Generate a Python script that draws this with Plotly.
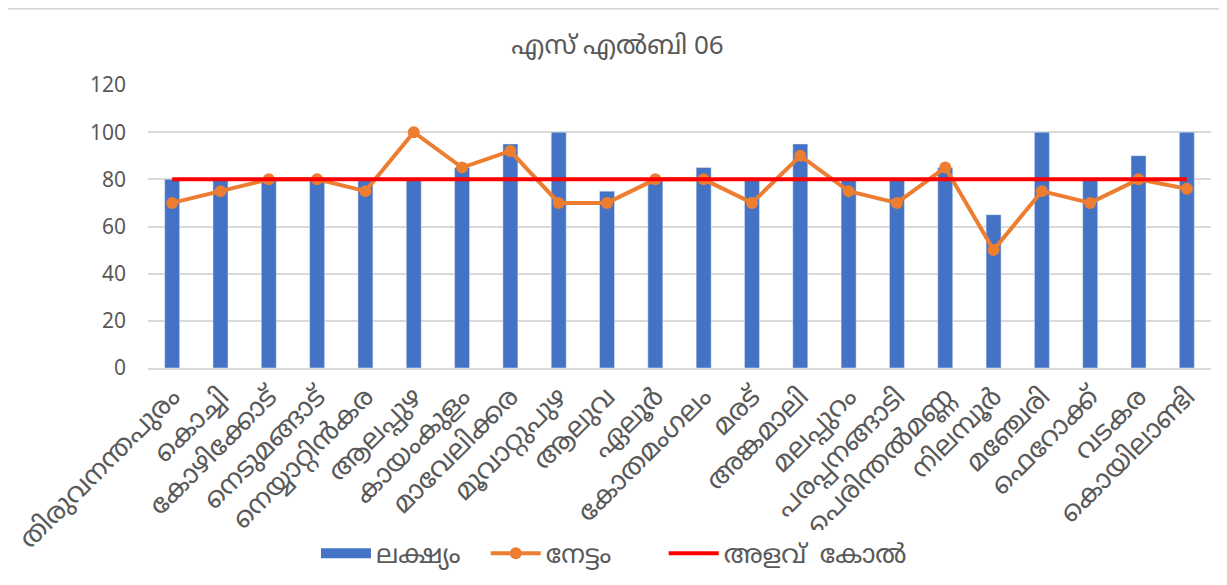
import plotly.graph_objects as go

categories = ["തിരുവനന്തപുരം", "കൊച്ചി", "കോഴിക്കോട്", "നെടുമങ്ങാട്", "നെയ്യാറ്റിൻകര",
              "ആലപ്പുഴ", "കായംകുളം", "മാവേലിക്കര", "മൂവാറ്റുപുഴ", "ആലുവ", "ഏലൂർ",
              "കോതമംഗലം", "മരട്", "അങ്കമാലി", "മലപ്പുറം", "പരപ്പനങ്ങാടി",
              "പെരിന്തൽമണ്ണ", "നിലമ്പൂർ", "മഞ്ചേരി", "ഫെറോക്ക്", "വടകര", "കൊയിലാണ്ടി"]
target = [80, 80, 80, 80, 80, 80, 85, 95, 100, 75, 80, 85, 80, 95, 80, 80, 85, 65, 100, 80, 90, 100]
achieved = [70, 75, 80, 80, 75, 100, 85, 92, 70, 70, 80, 80, 70, 90, 75, 70, 85, 50, 75, 70, 80, 76]
benchmark = [80] * len(categories)
series_names = ["ലക്ഷ്യം", "നേട്ടം", "അളവ്\u00a0\u00a0കോൽ"]

font_family = "Noto Sans, Noto Sans Malayalam, sans-serif"
grey = "#595959"
blue = "#4472C4"
nb = "\u00a0"

fig = go.Figure()
fig.add_trace(go.Bar(x=categories, y=target, name=series_names[0], marker_color=blue,
                     legendgroup="t", showlegend=False))
fig.add_trace(go.Scatter(x=categories, y=achieved, name=series_names[1] + nb * 7,
                         mode="lines+markers",
                         line=dict(color="#ED7D31", width=4),
                         marker=dict(color="#ED7D31", size=12), legendrank=2))
fig.add_trace(go.Scatter(x=categories, y=benchmark, name=series_names[2], mode="lines",
                         line=dict(color="#FF0000", width=4), legendrank=3))
# legend proxy for the bar series (wide swatch)
fig.add_trace(go.Scatter(x=[None], y=[None], name=series_names[0] + nb * 3, mode="lines",
                         line=dict(color=blue, width=16), legendgroup="t", legendrank=1))

fig.update_layout(
    width=1219, height=577,
    margin=dict(l=140, r=16, t=77, b=217, autoexpand=False),
    paper_bgcolor="white", plot_bgcolor="white",
    font=dict(family=font_family, color=grey, size=16),
    title=dict(text="എസ് എൽബി 06", x=0.5, xanchor="center", y=0.936, yanchor="middle",
               font=dict(size=26, color=grey)),
    bargap=0.69,
    showlegend=True,
    legend=dict(orientation="h", x=0.158, xanchor="left", y=-0.655, yanchor="middle",
                font=dict(size=26, color=grey), itemwidth=50),
    xaxis=dict(tickangle=-45, showgrid=False, showline=True, linecolor="#D9D9D9",
               linewidth=2, tickfont=dict(size=27, color=grey), ticks="", automargin=False,
               range=[-0.5, len(categories) - 0.5]),
    yaxis=dict(range=[0, 120], dtick=20, showgrid=True, gridcolor="#D9D9D9",
               gridwidth=1.5, zeroline=False, tickfont=dict(size=21, color=grey),
               ticklabelstandoff=21, automargin=False),
    shapes=[dict(type="rect", xref="paper", yref="paper",
                 x0=-0.1336, x1=1.0122, y0=-0.784, y1=1.269,
                 line=dict(color="#D9D9D9", width=2), layer="below")],
)

fig.write_html("out.html")
